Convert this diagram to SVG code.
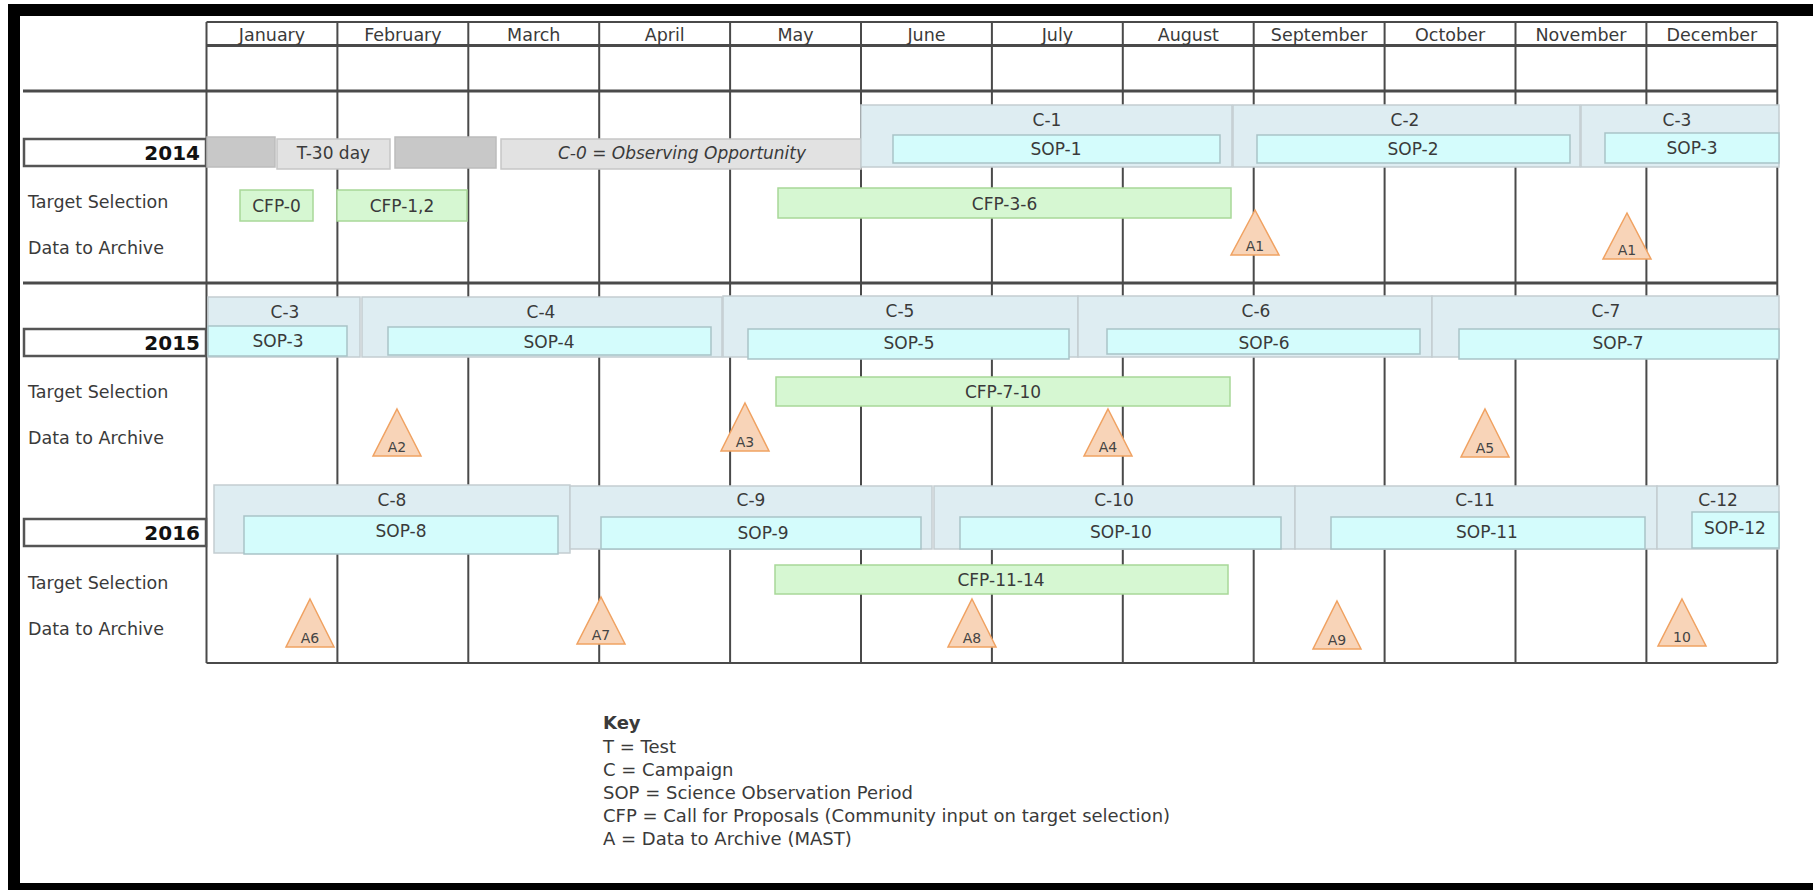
<svg xmlns="http://www.w3.org/2000/svg" width="1813" height="890" viewBox="0 0 1813 890">
<style>
text{font-family:"DejaVu Sans","Liberation Sans",sans-serif;fill:#3a3a3a}
.mo{font-size:17.5px;text-anchor:middle}
.lb{font-size:17.5px}
.yr{font-size:20px;font-weight:bold;text-anchor:end;fill:#111}
.bx{font-size:17px;text-anchor:middle}
.tl{font-size:14px;text-anchor:middle;fill:#444}
.key{font-size:18px}
.grid{stroke:#4a4a4a;stroke-width:2;fill:none}
.hl{stroke:#4a4a4a;stroke-width:3;fill:none}
.camp{fill:#deedf2;stroke:#c3cdd1;stroke-width:1.5}
.sop{fill:#d4fcfc;stroke:#a9c3c7;stroke-width:1.5}
.cfp{fill:#d6f7d2;stroke:#a8d898;stroke-width:1.5}
.tri{fill:#f8d4b8;stroke:#f0a262;stroke-width:1.5}
.gd{fill:#c8c8c8;stroke:#bcbcbc;stroke-width:1.5}
.gl{fill:#e2e2e2;stroke:#c6c6c6;stroke-width:1.5}
.yb{fill:#fff;stroke:#555;stroke-width:2.5}
</style>
<rect width="1813" height="890" fill="#fff"/>
<g id="frame">
<rect x="8" y="4" width="1805" height="12" fill="#000"/>
<rect x="8" y="4" width="12" height="886" fill="#000"/>
<rect x="8" y="883" width="1805" height="7" fill="#000"/>
</g>
<g id="grid">
<path class="grid" d="M206.5 22V663M337.4 22V663M468.3 22V663M599.2 22V663M730.1 22V663M861 22V663M991.9 22V663M1122.8 22V663M1253.7 22V663M1384.6 22V663M1515.5 22V663M1646.4 22V663M1777.3 22V663"/>
<path class="grid" d="M206.5 22H1777.3M206.5 663H1777.3"/>
<path class="hl" d="M206.5 45.5H1777.3M23 91H1777.3M23 283H1777.3"/>
</g>
<g id="months">
<text class="mo" x="272" y="41">January</text>
<text class="mo" x="402.9" y="41">February</text>
<text class="mo" x="533.8" y="41">March</text>
<text class="mo" x="664.7" y="41">April</text>
<text class="mo" x="795.6" y="41">May</text>
<text class="mo" x="926.5" y="41">June</text>
<text class="mo" x="1057.4" y="41">July</text>
<text class="mo" x="1188.3" y="41">August</text>
<text class="mo" x="1319.2" y="41">September</text>
<text class="mo" x="1450.1" y="41">October</text>
<text class="mo" x="1581" y="41">November</text>
<text class="mo" x="1711.9" y="41">December</text>
</g>
<g id="row-labels">
<text class="lb" x="28" y="208">Target Selection</text>
<text class="lb" x="28" y="254">Data to Archive</text>
<text class="lb" x="28" y="398">Target Selection</text>
<text class="lb" x="28" y="444">Data to Archive</text>
<text class="lb" x="28" y="589">Target Selection</text>
<text class="lb" x="28" y="635">Data to Archive</text>
</g>
<g id="y2014"><rect class="yb" x="24" y="139" width="182" height="27"/><text class="yr" x="200" y="160">2014</text></g>
<g id="y2015"><rect class="yb" x="24" y="329" width="182" height="27"/><text class="yr" x="200" y="350">2015</text></g>
<g id="y2016"><rect class="yb" x="24" y="519" width="182" height="27"/><text class="yr" x="200" y="540">2016</text></g>
<g id="test-bars">
<rect class="gd" x="207" y="137" width="68" height="30"/>
<rect class="gl" x="277" y="139" width="113" height="30"/>
<text class="bx" x="333.5" y="159">T-30 day</text>
<rect class="gd" x="395" y="137" width="101" height="31"/>
<rect class="gl" x="501" y="139" width="360" height="30"/>
<text class="bx" x="682" y="159" font-style="italic">C-0 = Observing Opportunity</text>
</g>
<g id="c1"><rect class="camp" x="861" y="105" width="371" height="62"/><text class="bx" x="1047" y="126">C-1</text></g>
<g id="sop1"><rect class="sop" x="893" y="135" width="327" height="28"/><text class="bx" x="1056" y="155">SOP-1</text></g>
<g id="c2"><rect class="camp" x="1233" y="105" width="347" height="62"/><text class="bx" x="1405" y="126">C-2</text></g>
<g id="sop2"><rect class="sop" x="1257" y="135" width="313" height="28"/><text class="bx" x="1413" y="155">SOP-2</text></g>
<g id="c3a"><rect class="camp" x="1581" y="105" width="198" height="62"/><text class="bx" x="1677" y="126">C-3</text></g>
<g id="sop3a"><rect class="sop" x="1605" y="133" width="174" height="30"/><text class="bx" x="1692" y="154">SOP-3</text></g>
<g id="cfp0"><rect class="cfp" x="240" y="190" width="73" height="31"/><text class="bx" x="276.5" y="212">CFP-0</text></g>
<g id="cfp12"><rect class="cfp" x="337" y="190" width="130" height="31"/><text class="bx" x="402" y="212">CFP-1,2</text></g>
<g id="cfp36"><rect class="cfp" x="778" y="188" width="453" height="30"/><text class="bx" x="1004.5" y="210">CFP-3-6</text></g>
<g id="a1a"><path class="tri" d="M1255 210L1279 255H1231Z"/><text class="tl" x="1255" y="251">A1</text></g>
<g id="a1b"><path class="tri" d="M1627 213L1651 259H1603Z"/><text class="tl" x="1627" y="255">A1</text></g>
<g id="c3b"><rect class="camp" x="208" y="297" width="152" height="60"/><text class="bx" x="285" y="318">C-3</text></g>
<g id="sop3b"><rect class="sop" x="208" y="326" width="139" height="30"/><text class="bx" x="278" y="347">SOP-3</text></g>
<g id="c4"><rect class="camp" x="362" y="297" width="360" height="60"/><text class="bx" x="541" y="318">C-4</text></g>
<g id="sop4"><rect class="sop" x="388" y="327" width="323" height="28"/><text class="bx" x="549" y="348">SOP-4</text></g>
<g id="c5"><rect class="camp" x="723" y="296" width="355" height="61"/><text class="bx" x="900" y="317">C-5</text></g>
<g id="sop5"><rect class="sop" x="748" y="329" width="321" height="30"/><text class="bx" x="909" y="349">SOP-5</text></g>
<g id="c6"><rect class="camp" x="1078" y="296" width="354" height="61"/><text class="bx" x="1256" y="317">C-6</text></g>
<g id="sop6"><rect class="sop" x="1107" y="329" width="313" height="25"/><text class="bx" x="1264" y="349">SOP-6</text></g>
<g id="c7"><rect class="camp" x="1432" y="296" width="347" height="61"/><text class="bx" x="1606" y="317">C-7</text></g>
<g id="sop7"><rect class="sop" x="1459" y="329" width="320" height="30"/><text class="bx" x="1618" y="349">SOP-7</text></g>
<g id="cfp710"><rect class="cfp" x="776" y="377" width="454" height="29"/><text class="bx" x="1003" y="398">CFP-7-10</text></g>
<g id="a2"><path class="tri" d="M397 409L421 456H373Z"/><text class="tl" x="397" y="452">A2</text></g>
<g id="a3"><path class="tri" d="M745 403L769 451H721Z"/><text class="tl" x="745" y="447">A3</text></g>
<g id="a4"><path class="tri" d="M1108 409L1132 456H1084Z"/><text class="tl" x="1108" y="452">A4</text></g>
<g id="a5"><path class="tri" d="M1485 409L1509 457H1461Z"/><text class="tl" x="1485" y="453">A5</text></g>
<g id="c8"><rect class="camp" x="214" y="485" width="356" height="68"/><text class="bx" x="392" y="506">C-8</text></g>
<g id="sop8"><rect class="sop" x="244" y="516" width="314" height="38"/><text class="bx" x="401" y="537">SOP-8</text></g>
<g id="c9"><rect class="camp" x="570" y="486" width="362" height="63"/><text class="bx" x="751" y="506">C-9</text></g>
<g id="sop9"><rect class="sop" x="601" y="517" width="320" height="32"/><text class="bx" x="763" y="539">SOP-9</text></g>
<g id="c10"><rect class="camp" x="934" y="486" width="361" height="63"/><text class="bx" x="1114" y="506">C-10</text></g>
<g id="sop10"><rect class="sop" x="960" y="517" width="321" height="32"/><text class="bx" x="1121" y="538">SOP-10</text></g>
<g id="c11"><rect class="camp" x="1295" y="486" width="362" height="63"/><text class="bx" x="1475" y="506">C-11</text></g>
<g id="sop11"><rect class="sop" x="1331" y="517" width="314" height="32"/><text class="bx" x="1487" y="538">SOP-11</text></g>
<g id="c12"><rect class="camp" x="1657" y="486" width="122" height="63"/><text class="bx" x="1718" y="506">C-12</text></g>
<g id="sop12"><rect class="sop" x="1692" y="512" width="87" height="36"/><text class="bx" x="1735" y="534">SOP-12</text></g>
<g id="cfp1114"><rect class="cfp" x="775" y="565" width="453" height="29"/><text class="bx" x="1001" y="586">CFP-11-14</text></g>
<g id="a6"><path class="tri" d="M310 599L334 647H286Z"/><text class="tl" x="310" y="643">A6</text></g>
<g id="a7"><path class="tri" d="M601 597L625 644H577Z"/><text class="tl" x="601" y="640">A7</text></g>
<g id="a8"><path class="tri" d="M972 599L996 647H948Z"/><text class="tl" x="972" y="643">A8</text></g>
<g id="a9"><path class="tri" d="M1337 601L1361 649H1313Z"/><text class="tl" x="1337" y="645">A9</text></g>
<g id="a10"><path class="tri" d="M1682 599L1706 646H1658Z"/><text class="tl" x="1682" y="642">10</text></g>
<g id="key">
<text class="key" x="603" y="729" font-weight="bold" fill="#111">Key</text>
<text class="key" x="603" y="753">T = Test</text>
<text class="key" x="603" y="776">C = Campaign</text>
<text class="key" x="603" y="799">SOP = Science Observation Period</text>
<text class="key" x="603" y="822">CFP = Call for Proposals (Community input on target selection)</text>
<text class="key" x="603" y="845">A = Data to Archive (MAST)</text>
</g>
</svg>
